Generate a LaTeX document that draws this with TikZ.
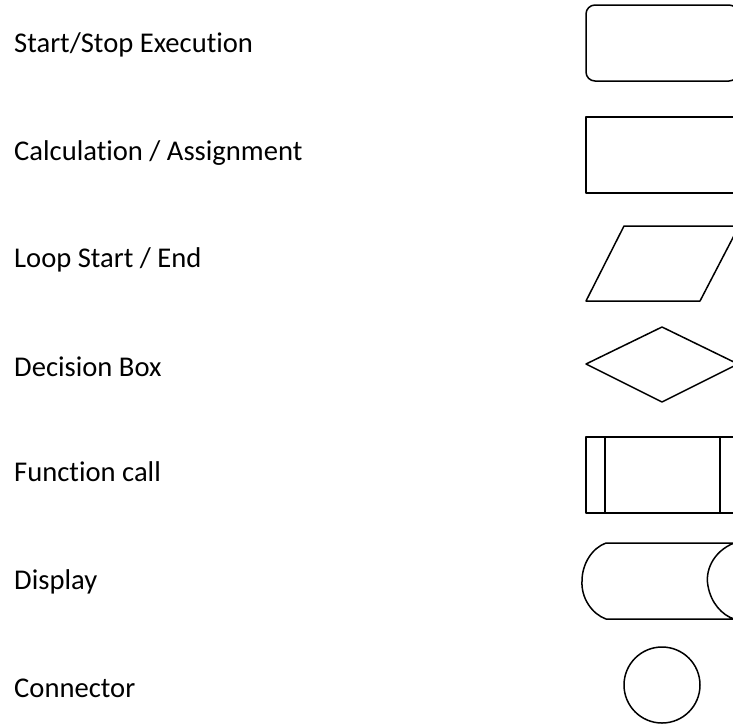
\documentclass[tikz,border=0pt]{standalone}
\usepackage{fontspec}
\setmainfont{Carlito}[Ligatures=CommonOff]
\begin{document}
\begin{tikzpicture}[x=1pt,y=-1pt,
  label/.style={anchor=base west,inner sep=0pt,font=\fontsize{28.6}{31}\selectfont},
  symbol/.style={draw=black,line width=1.5pt,line join=round}]
\useasboundingbox (0,0) rectangle (733,724);
\clip (0,0) rectangle (733,724);

% legend texts
\node[label] (t1) at (14,52)  {Start/Stop Execution};
\node[label] (t2) at (14,160) {Calculation / Assignment};
\node[label] (t3) at (14,267) {Loop Start / End};
\node[label] (t4) at (14,376) {Decision Box};
\node[label] (t5) at (14,481) {Function call};
\node[label] (t6) at (14,589) {Display};
\node[label] (t7) at (14,697) {Connector};

% terminator
\draw[symbol,rounded corners=9pt] (586,5) rectangle (738,81);
% process
\draw[symbol] (586,117) rectangle (738,193);
% loop (parallelogram)
\draw[symbol] (624,226) -- (739,226) -- (700,301) -- (586,301) -- cycle;
% decision
\draw[symbol] (586,364) -- (662,327) -- (738,364) -- (662,402) -- cycle;
% predefined process
\draw[symbol] (586,437) rectangle (740,513);
\draw[symbol] (605,437) -- (605,513);
\draw[symbol] (720,437) -- (720,513);
% display
\draw[symbol] (606,543) -- (734,543)
  .. controls (712,552) and (705,572) .. (708,586)
  .. controls (711,603) and (722,615) .. (734,619)
  -- (606,619)
  .. controls (592,614) and (581,598) .. (582,581)
  .. controls (582,564) and (592,548) .. (606,543) -- cycle;
\draw[symbol] (734,543) .. controls (745,550) and (750,570) .. (750,581);
% connector
\draw[symbol] (662,685) circle[radius=38];
\end{tikzpicture}
\end{document}
